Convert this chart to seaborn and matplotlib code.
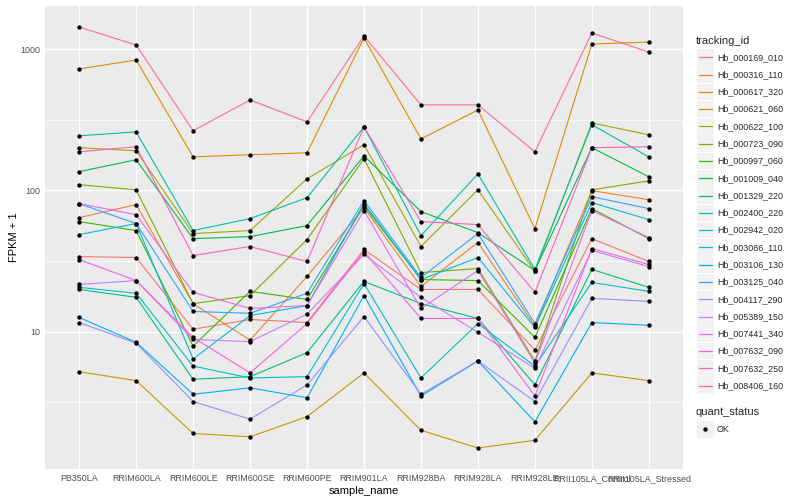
import numpy as np
import pandas as pd
import matplotlib
matplotlib.use('Agg')
import matplotlib.pyplot as plt
from matplotlib.patches import Rectangle
from matplotlib.lines import Line2D
import seaborn as sns

# x categories
samples = ['PB350LA', 'RRIM600LA', 'RRIM600LE', 'RRIM600SE', 'RRIM600PE', 'RRIM901LA',
           'RRIM928BA', 'RRIM928LA', 'RRIM928LE', 'RRII105LA_Control', 'RRII105LA_Stressed']

tracking_ids = ['Hb_000169_010', 'Hb_000316_110', 'Hb_000617_320', 'Hb_000621_060',
                'Hb_000622_100', 'Hb_000723_090', 'Hb_000997_060', 'Hb_001009_040',
                'Hb_001329_220', 'Hb_002400_220', 'Hb_002942_020', 'Hb_003086_110',
                'Hb_003106_130', 'Hb_003125_040', 'Hb_004117_290', 'Hb_005389_150',
                'Hb_007441_340', 'Hb_007632_090', 'Hb_007632_250', 'Hb_008406_160']

# ggplot2 default hue palette for 20 levels
palette = ['#F8766D', '#EA8331', '#D89000', '#C09B00', '#A3A500', '#7CAE00', '#39B600',
           '#00BB4E', '#00BF7D', '#00C1A3', '#00BFC4', '#00BAE0', '#00B0F6', '#35A2FF',
           '#9590FF', '#C77CFF', '#E76BF3', '#FA62DB', '#FF62BC', '#FF6C91']

# FPKM + 1 per sample
fpkm_000169_010 = [34.0, 33.5, 10.4, 12.2, 11.6, 38.2, 19.9, 19.9, 7.4, 45.6, 31.4]
fpkm_000316_110 = [64.2, 79.4, 15.8, 8.7, 24.6, 75.6, 20.9, 42.8, 10.9, 99.7, 86.1]
fpkm_000617_320 = [726, 840, 173, 179, 185, 1202, 232, 372, 53.7, 1090, 1126]
fpkm_000621_060 = [5.2, 4.5, 1.9, 1.8, 2.5, 5.1, 2.0, 1.5, 1.7, 5.1, 4.5]
fpkm_000622_100 = [201, 191, 49.5, 52.0, 121, 211, 40.1, 101, 26.7, 301, 248]
fpkm_000723_090 = [110, 101, 15.8, 18.0, 44.9, 168, 26.2, 28.0, 6.2, 101, 117]
fpkm_000997_060 = [60.2, 52.0, 7.9, 19.3, 16.9, 78.1, 23.4, 23.0, 9.1, 74.4, 45.6]
fpkm_001009_040 = [136, 165, 45.6, 47.1, 56.4, 176, 70.8, 50.3, 27.1, 201, 125]
fpkm_001329_220 = [19.9, 17.5, 4.6, 4.8, 7.1, 22.7, 15.8, 12.4, 4.2, 27.6, 20.6]
fpkm_002400_220 = [244, 260, 52.0, 63.2, 88.9, 282, 47.9, 131, 27.6, 292, 173]
fpkm_002942_020 = [20.6, 18.7, 5.7, 4.7, 4.8, 21.9, 4.7, 11.4, 5.7, 22.3, 19.3]
fpkm_003086_110 = [48.7, 58.3, 6.4, 13.0, 15.3, 80.7, 23.4, 33.5, 10.7, 82.0, 62.2]
fpkm_003106_130 = [12.6, 8.4, 3.6, 4.0, 3.4, 18.0, 3.5, 6.2, 2.3, 11.6, 11.1]
fpkm_003125_040 = [80.7, 58.3, 13.9, 13.5, 18.7, 84.7, 24.2, 49.5, 11.4, 90.4, 74.4]
fpkm_004117_290 = [11.6, 8.3, 3.2, 2.4, 4.2, 12.8, 3.6, 6.2, 3.2, 17.2, 16.4]
fpkm_005389_150 = [21.6, 23.0, 8.8, 8.5, 13.3, 35.2, 17.5, 9.9, 5.5, 37.6, 28.9]
fpkm_007441_340 = [80.7, 67.4, 19.0, 14.6, 15.3, 72.0, 14.6, 27.1, 6.0, 72.0, 46.4]
fpkm_007632_090 = [32.4, 23.0, 9.1, 5.1, 11.4, 36.9, 12.4, 12.4, 3.5, 38.8, 29.9]
fpkm_007632_250 = [188, 204, 34.6, 40.1, 31.4, 282, 60.2, 57.3, 19.0, 201, 204]
fpkm_008406_160 = [1438, 1072, 265, 438, 306, 1242, 404, 404, 188, 1304, 957]

series = [fpkm_000169_010, fpkm_000316_110, fpkm_000617_320, fpkm_000621_060,
          fpkm_000622_100, fpkm_000723_090, fpkm_000997_060, fpkm_001009_040,
          fpkm_001329_220, fpkm_002400_220, fpkm_002942_020, fpkm_003086_110,
          fpkm_003106_130, fpkm_003125_040, fpkm_004117_290, fpkm_005389_150,
          fpkm_007441_340, fpkm_007632_090, fpkm_007632_250, fpkm_008406_160]

# long table
rows = []
for tid, vals in zip(tracking_ids, series):
    for s, v in zip(samples, vals):
        rows.append((tid, s, v))
df = pd.DataFrame(rows, columns=['tracking_id', 'sample_name', 'fpkm1'])
df['quant_status'] = 'OK'
df['pos'] = df['sample_name'].map({s: i for i, s in enumerate(samples)})

sns.set_theme(style='darkgrid')
plt.rcParams['font.family'] = ['Liberation Sans', 'DejaVu Sans']

fig = plt.figure(figsize=(8, 5), dpi=100)
ax = fig.add_axes([45 / 800, 31 / 500, 638 / 800, 463 / 500])
ax.set_facecolor('#EBEBEB')

sns.lineplot(data=df, x='pos', y='fpkm1', hue='tracking_id', hue_order=tracking_ids,
             palette=palette, linewidth=0.8, sort=False, estimator=None,
             legend=False, ax=ax)
sns.scatterplot(data=df, x='pos', y='fpkm1', color='black', s=10, linewidth=0,
                legend=False, ax=ax, zorder=3)

ax.set_yscale('log')
lo, hi = np.log10(df['fpkm1'].min()), np.log10(df['fpkm1'].max())
pad = (hi - lo) * 0.05
ax.set_ylim(10 ** (lo - pad), 10 ** (hi + pad))
ax.set_xlim(-0.6, len(samples) - 0.4)

ax.set_yticks([10, 100, 1000])
ax.set_yticklabels(['10', '100', '1000'])
ax.set_yticks([10 ** 0.5, 10 ** 1.5, 10 ** 2.5], minor=True)
ax.set_xticks(range(len(samples)))
ax.set_xticklabels(samples)

ax.grid(which='major', color='white', linewidth=1.0)
ax.grid(which='minor', axis='y', color='white', linewidth=0.5)
ax.tick_params(axis='both', which='major', labelsize=6.4, labelcolor='#4D4D4D',
               color='#333333', length=2.2, width=0.7, pad=1.5)
ax.tick_params(axis='y', which='minor', length=0)
for sp in ax.spines.values():
    sp.set_visible(False)
ax.set_xlabel('sample_name', fontsize=8, color='black', labelpad=2)
ax.set_ylabel('FPKM + 1', fontsize=8, color='black', labelpad=0.5)

# legend drawn ggplot-style in pixel coordinates
lg = fig.add_axes([0, 0, 1, 1], facecolor='none')
lg.set_xlim(0, 800)
lg.set_ylim(500, 0)
lg.axis('off')
lg.text(696, 40.5, 'tracking_id', fontsize=8, va='center', ha='left')
for i, (tid, col) in enumerate(zip(tracking_ids, palette)):
    yc = 57.3 + i * 17.28
    lg.add_patch(Rectangle((697, yc - 8.3), 16.6, 16.6, facecolor='#F2F2F2', edgecolor='none'))
    lg.add_artist(Line2D([698.5, 711.5], [yc, yc], color=col, linewidth=0.9))
    lg.text(717, yc, tid, fontsize=6.4, va='center', ha='left')
lg.text(696, 412, 'quant_status', fontsize=8, va='center', ha='left')
lg.add_patch(Rectangle((697, 429.3 - 8.3), 16.6, 16.6, facecolor='#F2F2F2', edgecolor='none'))
lg.scatter([705.3], [429.3], color='black', s=10, linewidth=0)
lg.text(717, 429.3, 'OK', fontsize=6.4, va='center', ha='left')

fig.savefig('out.png', dpi=100)
